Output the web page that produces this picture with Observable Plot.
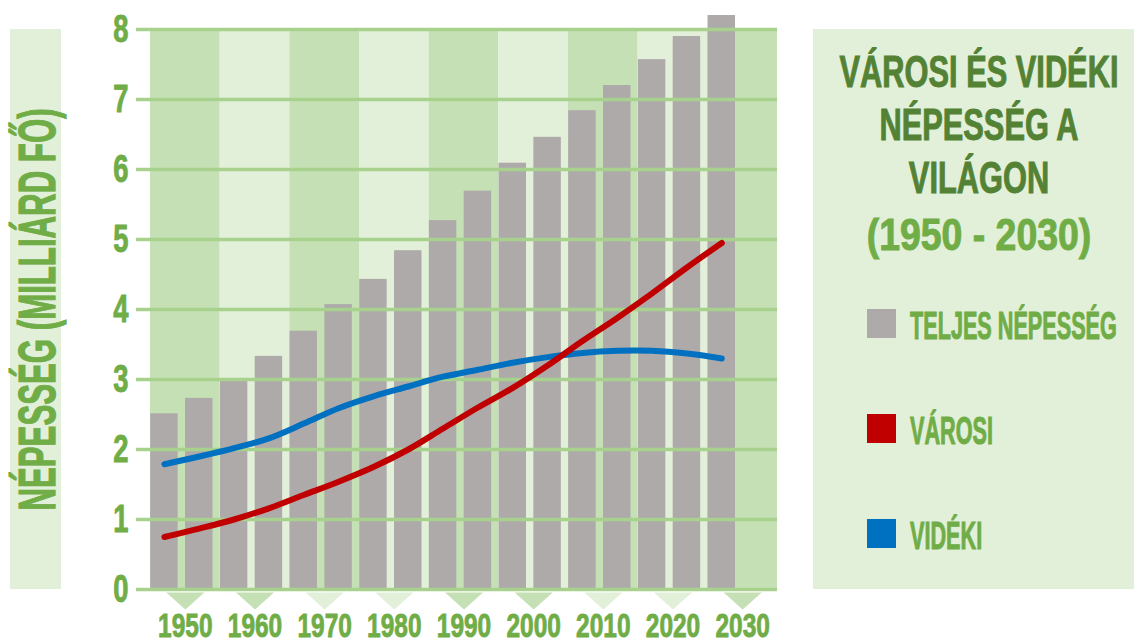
<!DOCTYPE html>
<html>
<head>
<meta charset="utf-8">
<script src="https://cdn.jsdelivr.net/npm/d3@7"></script>
<script src="https://cdn.jsdelivr.net/npm/@observablehq/plot@0.6"></script>
<style>
  html, body { margin: 0; padding: 0; background: #ffffff; }
  #chart { width: 1134px; height: 643px; position: relative; }
</style>
</head>
<body>
<div id="chart"></div>
<script>
// ---- data ----
const years = [1950, 1955, 1960, 1965, 1970, 1975, 1980, 1985, 1990, 1995, 2000, 2005, 2010, 2015, 2020, 2025, 2030];
const total = [2.51, 2.73, 3.01, 3.33, 3.69, 4.07, 4.43, 4.84, 5.27, 5.69, 6.09, 6.46, 6.84, 7.20, 7.57, 7.90, 8.20];
const urban = [0.75, 0.87, 1.00, 1.16, 1.35, 1.54, 1.75, 2.00, 2.30, 2.60, 2.88, 3.20, 3.55, 3.88, 4.23, 4.60, 4.95];
const rural = [1.79, 1.90, 2.02, 2.16, 2.37, 2.59, 2.76, 2.90, 3.04, 3.14, 3.24, 3.32, 3.38, 3.41, 3.41, 3.37, 3.30];
const decades = [1950, 1960, 1970, 1980, 1990, 2000, 2010, 2020, 2030];
const yTicks = [0, 1, 2, 3, 4, 5, 6, 7, 8];
const seriesNames = ["TELJES NÉPESSÉG", "VÁROSI", "VIDÉKI"];
const titleLines = ["VÁROSI ÉS VIDÉKI", "NÉPESSÉG A", "VILÁGON", "(1950 - 2030)"];
const yTitle = "NÉPESSÉG (MILLIÁRD FŐ)";

// ---- styles ----
const FONT = "'Liberation Sans', Arial, sans-serif";
const DARK_BAND = "#c5e0b4", LIGHT_BAND = "#e2f0d9", GRID = "#a9d18e";
const GREEN = "#70ad47", DARK_GREEN = "#548235";
const GRAY = "#aeaaaa", RED = "#c00000", BLUE = "#0070c0";
const seriesColors = [GRAY, RED, BLUE];

const rows = years.map((year, i) => ({year, total: total[i], urban: urban[i], rural: rural[i]}));

const downTriangle = {
  draw(context) {
    context.moveTo(-19, 3);
    context.lineTo(19, 3);
    context.lineTo(0, 20);
    context.closePath();
  }
};

const svg = Plot.plot({
  width: 1134,
  height: 643,
  marginLeft: 150,
  marginRight: 357,
  marginTop: 29,
  marginBottom: 54,
  x: {domain: [1948, 2038], axis: null},
  y: {domain: [0, 8], axis: null},
  style: {fontFamily: FONT, background: "transparent", overflow: "visible"},
  marks: [
    // alternating decade bands
    Plot.rect(decades, {x1: d => d - 2, x2: d => d + 8, y1: 0, y2: 8,
      fill: (d, i) => (i % 2 === 0 ? DARK_BAND : LIGHT_BAND)}),
    // total population bars
    Plot.rect(rows, {x1: d => d.year - 2, x2: d => d.year + 2, y1: 0, y2: "total", fill: GRAY, insetLeft: 0.2, insetRight: 0.2}),
    // horizontal grid (over bars)
    Plot.gridY(yTicks, {stroke: GRID, strokeWidth: 3.5, strokeOpacity: 1}),
    Plot.axisY(yTicks, {tickSize: 14, tickPadding: 8, tickFormat: d => String(d), stroke: GRID, strokeWidth: 3.5, strokeOpacity: 1,
      fill: GREEN, fontSize: 38, fontWeight: "bold", label: null}),
    // triangles under the axis
    Plot.dot(decades, {x: d => d + 3, frameAnchor: "bottom", symbol: downTriangle, r: 10,
      fill: (d, i) => (Math.floor(i / 2) % 2 === 0 ? DARK_BAND : LIGHT_BAND)}),
    // decade labels
    Plot.text(decades, {x: d => d + 3, frameAnchor: "bottom", lineAnchor: "bottom", dy: 47, text: d => String(d),
      fill: GREEN, fontSize: 34, fontWeight: "bold"}),
    // lines
    Plot.line(rows, {x: "year", y: "rural", stroke: BLUE, strokeWidth: 6, curve: "catmull-rom", strokeLinecap: "round", strokeLinejoin: "round"}),
    Plot.line(rows, {x: "year", y: "urban", stroke: RED, strokeWidth: 6, curve: "catmull-rom", strokeLinecap: "round", strokeLinejoin: "round"})
  ]
});

// condensed, heavy look for Plot's text
d3.select(svg).selectAll("text").each(function () {
  const t = this.getAttribute("transform");
  if (t) {
    this.setAttribute("transform", t + " scale(0.72,1)");
  } else {
    const x = this.getAttribute("x") || 0, y = this.getAttribute("y") || 0;
    this.removeAttribute("x"); this.removeAttribute("y");
    this.setAttribute("transform", `translate(${x},${y}) scale(0.72,1)`);
  }
  this.setAttribute("stroke", GREEN);
  this.setAttribute("stroke-width", 0.9);
});

// ---- y title box and side panel ----
const g = d3.select(svg).append("g")
  .attr("font-family", FONT).attr("font-weight", "bold");

g.append("rect").attr("x", 10).attr("y", 29).attr("width", 51).attr("height", 560).attr("fill", LIGHT_BAND);
g.append("text")
  .attr("transform", "translate(55,309.5) rotate(-90) scale(0.6,1)")
  .attr("text-anchor", "middle").attr("font-size", 52).attr("fill", GREEN)
  .attr("stroke", GREEN).attr("stroke-width", 1.2)
  .text(yTitle);

g.append("rect").attr("x", 813).attr("y", 29).attr("width", 321).attr("height", 560).attr("fill", LIGHT_BAND);

const titleBaselines = [87, 140, 193, 250];
titleLines.forEach((line, i) => {
  const last = i === titleLines.length - 1;
  const color = last ? GREEN : DARK_GREEN;
  g.append("text")
    .attr("transform", `translate(979,${titleBaselines[i]}) scale(${last ? 0.85 : 0.7},1)`)
    .attr("text-anchor", "middle").attr("font-size", 44)
    .attr("fill", color).attr("stroke", color).attr("stroke-width", 1)
    .text(line);
});

const legendTops = [309, 414, 519];
seriesNames.forEach((name, i) => {
  g.append("rect").attr("x", 867).attr("y", legendTops[i]).attr("width", 29).attr("height", 29)
    .attr("fill", seriesColors[i]);
  g.append("text")
    .attr("transform", `translate(910,${legendTops[i] + 30}) scale(0.57,1)`)
    .attr("text-anchor", "start")
    .attr("font-size", 38).attr("fill", GREEN).attr("stroke", GREEN).attr("stroke-width", 1)
    .text(name);
});

document.getElementById("chart").appendChild(svg);
</script>
</body>
</html>
